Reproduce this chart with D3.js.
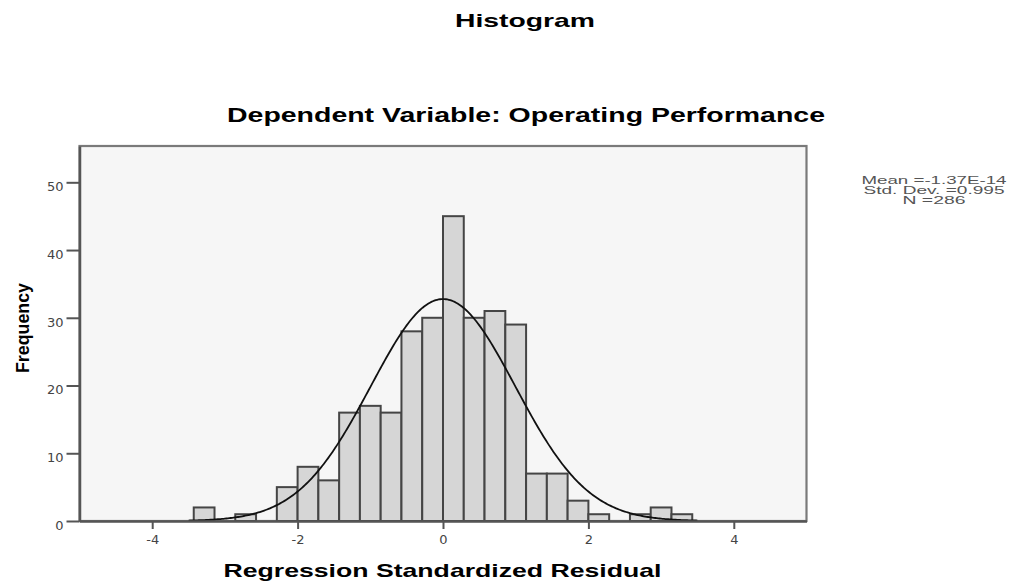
<!DOCTYPE html>
<html>
<head>
<meta charset="utf-8">
<script src="https://cdn.jsdelivr.net/npm/d3@7"></script>
<style>
  body { margin: 0; background: #fff; }
  text { font-family: "Liberation Sans", Arial, sans-serif; }
</style>
</head>
<body>
<div id="chart"></div>
<script>
// histogram of regression standardized residuals (SPSS style)

// bin index k covers [k*binWidth, (k+1)*binWidth]
const binWidth = 2 / 7;
const binIndex = [-12, -11, -10, -9, -8, -7, -6, -5, -4, -3, -2, -1, 0, 1, 2, 3, 4, 5, 6, 7, 8, 9, 10, 11];
const counts   = [2, 0, 1, 0, 5, 8, 6, 16, 17, 16, 28, 30, 45, 30, 31, 29, 7, 7, 3, 1, 0, 1, 2, 1];

const xTicks = [-4, -2, 0, 2, 4];
const yTicks = [0, 10, 20, 30, 40, 50];

const mean = -1.37e-14;
const stdDev = 0.995;
const nObs = 286;
const statLines = ["Mean =-1.37E-14", "Std. Dev. =0.995", "N =286"];

const title = "Histogram";
const subtitle = "Dependent Variable: Operating Performance";
const xLabel = "Regression Standardized Residual";
const yLabel = "Frequency";

const width = 1011, height = 583;

const svg = d3.select("#chart").append("svg")
  .attr("width", width)
  .attr("height", height);

const xScale = d3.scaleLinear().domain([-5, 5]).range([79.5, 806.5]);
const yScale = d3.scaleLinear().domain([0, 55.36]).range([521, 146]);

// plot area
svg.append("rect")
  .attr("x", xScale(-5))
  .attr("y", yScale(55.36))
  .attr("width", xScale(5) - xScale(-5))
  .attr("height", yScale(0) - yScale(55.36))
  .attr("fill", "#f6f6f6")
  .attr("stroke", "#7a7a7a")
  .attr("stroke-width", 2.2);

// bars
const bins = binIndex.map((k, i) => ({ x0: k * binWidth, x1: (k + 1) * binWidth, n: counts[i] }))
  .filter(d => d.n > 0);

svg.append("g")
  .selectAll("rect")
  .data(bins)
  .join("rect")
  .attr("x", d => xScale(d.x0))
  .attr("y", d => yScale(d.n))
  .attr("width", d => xScale(d.x1) - xScale(d.x0))
  .attr("height", d => yScale(0) - yScale(d.n))
  .attr("fill", "#d6d6d6")
  .attr("stroke", "#454545")
  .attr("stroke-width", 2);

// fitted normal curve from the reported statistics
const curvePts = d3.range(-3.5, 3.5001, 0.02).map(x => {
  const z = (x - mean) / stdDev;
  return [x, nObs * binWidth * Math.exp(-z * z / 2) / (stdDev * Math.sqrt(2 * Math.PI))];
});

svg.append("path")
  .datum(curvePts)
  .attr("fill", "none")
  .attr("stroke", "#111")
  .attr("stroke-width", 1.8)
  .attr("d", d3.line().x(d => xScale(d[0])).y(d => yScale(d[1])));

// axes
const yAxis = svg.append("g")
  .attr("transform", `translate(${xScale(-5)},0)`)
  .call(d3.axisLeft(yScale).tickValues(yTicks).tickSize(13).tickSizeOuter(0).tickPadding(3));
const xAxis = svg.append("g")
  .attr("transform", `translate(0,${yScale(0)})`)
  .call(d3.axisBottom(xScale).tickValues(xTicks).tickSize(8).tickSizeOuter(0).tickPadding(6)
    .tickFormat(d3.format("d")));

[yAxis, xAxis].forEach(g => {
  g.select(".domain").attr("stroke", "#555").attr("stroke-width", 2.5);
  g.selectAll(".tick line").attr("stroke", "#555").attr("stroke-width", 2);
  g.selectAll(".tick text")
    .attr("fill", "#444")
    .style("font-size", "13px")
    .style("font-family", "'DejaVu Sans', sans-serif");
});
yAxis.selectAll(".tick text").attr("dy", "0.65em");
xAxis.selectAll(".tick text").text(d => d < 0 ? "-" + Math.abs(d) : d);

// titles
svg.append("text")
  .attr("x", 525).attr("y", 27)
  .attr("text-anchor", "middle")
  .attr("font-weight", "bold")
  .attr("font-size", 19)
  .attr("textLength", 140)
  .attr("lengthAdjust", "spacingAndGlyphs")
  .text(title);

svg.append("text")
  .attr("x", 526).attr("y", 122)
  .attr("text-anchor", "middle")
  .attr("font-weight", "bold")
  .attr("font-size", 21)
  .attr("textLength", 598)
  .attr("lengthAdjust", "spacingAndGlyphs")
  .text(subtitle);

svg.append("text")
  .attr("x", 442.5).attr("y", 577)
  .attr("text-anchor", "middle")
  .attr("font-weight", "bold")
  .attr("font-size", 19)
  .attr("textLength", 438)
  .attr("lengthAdjust", "spacingAndGlyphs")
  .text(xLabel);

svg.append("text")
  .attr("transform", "translate(29,328) rotate(-90)")
  .attr("text-anchor", "middle")
  .attr("font-weight", "bold")
  .attr("font-size", 18)
  .attr("textLength", 90)
  .attr("lengthAdjust", "spacingAndGlyphs")
  .text(yLabel);

// statistics box
const statWidths = [145, 141, 63];
svg.append("g")
  .selectAll("text")
  .data(statLines)
  .join("text")
  .attr("x", 934)
  .attr("y", (d, i) => 184 + i * 10)
  .attr("text-anchor", "middle")
  .attr("font-size", 11.5)
  .attr("fill", "#555")
  .attr("textLength", (d, i) => statWidths[i])
  .attr("lengthAdjust", "spacingAndGlyphs")
  .text(d => d);
</script>
</body>
</html>
